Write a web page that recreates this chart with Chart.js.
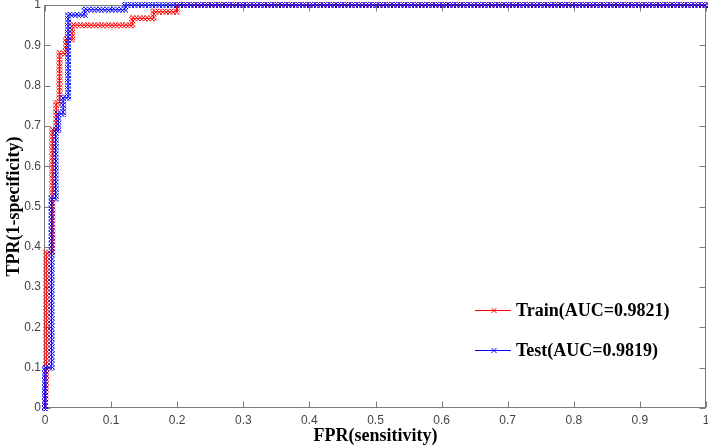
<!DOCTYPE html>
<html>
<head>
<meta charset="utf-8">
<script src="https://cdn.jsdelivr.net/npm/chart.js@4/dist/chart.umd.min.js"></script>
<style>
  body { margin: 0; background: #fff; }
  #wrap { width: 708px; height: 448px; }
</style>
</head>
<body>
<div id="wrap"><canvas id="roc" width="708" height="448"></canvas></div>
<script>
// ROC corner points (FPR, TPR)
const trainFpr = [0, 0.002, 0.002, 0.011, 0.011, 0.017, 0.017, 0.022, 0.022, 0.032, 0.032, 0.041, 0.041, 0.132, 0.132, 0.164, 0.164, 0.199, 0.199, 1];
const trainTpr = [0, 0.1, 0.385, 0.385, 0.69, 0.69, 0.757, 0.757, 0.88, 0.88, 0.915, 0.915, 0.95, 0.95, 0.967, 0.967, 0.983, 0.983, 1, 1];
const testFpr = [0, 0, 0.01, 0.01, 0.016, 0.016, 0.02, 0.02, 0.0275, 0.0275, 0.035, 0.035, 0.06, 0.06, 0.121, 0.121, 1];
const testTpr = [0, 0.1, 0.1, 0.52, 0.52, 0.69, 0.69, 0.73, 0.73, 0.77, 0.77, 0.975, 0.975, 0.988, 0.988, 1, 1];
const seriesNames = ['Train(AUC=0.9821)', 'Test(AUC=0.9819)'];
const seriesColors = ['#ff0000', '#0000ff'];
const xTitle = 'FPR(sensitivity)';
const yTitle = 'TPR(1-specificity)';

function toPoints(xs, ys) {
    return xs.map((x, i) => ({ x: x, y: ys[i] }));
}

// matlab 'x' markers packed tight along the curve -> criss-cross band
function chainPattern(color) {
    const c = document.createElement('canvas');
    c.width = 7; c.height = 7;
    const g = c.getContext('2d');
    g.strokeStyle = color;
    g.lineWidth = 0.9;
    g.beginPath();
    [-7, -3.5, 0, 3.5, 7].forEach(k => { g.moveTo(-1, -1 + k); g.lineTo(8, 8 + k); });
    [0, 3.5, 7, 10.5, 14].forEach(k => { g.moveTo(-1, k + 1); g.lineTo(8, k - 8); });
    g.stroke();
    return g.createPattern(c, 'repeat');
}

function tickText(v) {
    return String(Math.round(v * 10) / 10);
}

const trainPts = toPoints(trainFpr, trainTpr);
const testPts = toPoints(testFpr, testTpr);

const frame = {
    id: 'frame',
    beforeDatasetsDraw(chart) {
        const { ctx, chartArea: a, scales } = chart;
        const L = Math.round(a.left) - 0.5, R = Math.round(a.right) - 0.5;
        const T = Math.round(a.top) + 0.5, B = Math.round(a.bottom) - 0.5;
        ctx.save();
        ctx.strokeStyle = '#7a7a7a';
        ctx.lineWidth = 1;
        ctx.strokeRect(L, T, R - L, B - T);
        ctx.beginPath();
        scales.x.ticks.forEach(t => {
            const px = Math.round(scales.x.getPixelForValue(t.value)) + 0.5;
            ctx.moveTo(px, B); ctx.lineTo(px, B - 6);
            ctx.moveTo(px, T); ctx.lineTo(px, T + 6);
        });
        scales.y.ticks.forEach(t => {
            const py = Math.round(scales.y.getPixelForValue(t.value)) + 0.5;
            ctx.moveTo(L, py); ctx.lineTo(L + 6, py);
            ctx.moveTo(R, py); ctx.lineTo(R - 6, py);
        });
        ctx.stroke();
        ctx.restore();
    },
    afterDatasetsDraw(chart) {
        const { ctx, chartArea: a } = chart;
        const x0 = a.right - 231;
        const rows = [a.bottom - 98, a.bottom - 58];
        ctx.save();
        rows.forEach((y, i) => {
            ctx.strokeStyle = seriesColors[i];
            ctx.lineWidth = 1;
            ctx.beginPath();
            ctx.moveTo(x0, y + 0.5); ctx.lineTo(x0 + 36, y + 0.5);
            const mx = x0 + 19;
            ctx.moveTo(mx - 2.5, y - 2); ctx.lineTo(mx + 2.5, y + 3);
            ctx.moveTo(mx - 2.5, y + 3); ctx.lineTo(mx + 2.5, y - 2);
            ctx.stroke();
            ctx.fillStyle = '#000';
            ctx.font = 'bold 18px "Liberation Serif", "Times New Roman", serif';
            ctx.textBaseline = 'middle';
            ctx.fillText(seriesNames[i], x0 + 41, y + 1);
        });
        ctx.restore();
    }
};

const tickFont = { family: '"Liberation Sans", Arial, sans-serif', size: 12 };
const titleFont = { family: '"Liberation Serif", "Times New Roman", serif', size: 18, weight: 'bold', lineHeight: 1.2 };

new Chart(document.getElementById('roc').getContext('2d'), {
    type: 'scatter',
    data: {
        datasets: [
            { label: seriesNames[1], data: testPts, showLine: true, borderColor: seriesColors[1], borderWidth: 1, pointRadius: 0, clip: false, order: 0 },
            { label: seriesNames[1], data: testPts, showLine: true, borderColor: chainPattern(seriesColors[1]), borderWidth: 6, borderCapStyle: 'square', pointRadius: 0, clip: false, order: 1 },
            { label: seriesNames[0], data: trainPts, showLine: true, borderColor: seriesColors[0], borderWidth: 1, pointRadius: 0, clip: false, order: 2 },
            { label: seriesNames[0], data: trainPts, showLine: true, borderColor: chainPattern(seriesColors[0]), borderWidth: 6, borderCapStyle: 'square', pointRadius: 0, clip: false, order: 3 }
        ]
    },
    options: {
        responsive: false,
        animation: false,
        devicePixelRatio: 1,
        layout: { padding: { top: 5, right: 2, left: 0, bottom: 0 } },
        plugins: { legend: { display: false }, tooltip: { enabled: false } },
        scales: {
            x: {
                type: 'linear', min: 0, max: 1,
                afterFit: s => { s.height = 40; s.paddingLeft = 0; s.paddingRight = 0; },
                ticks: { stepSize: 0.1, padding: 5, color: '#444', font: tickFont, callback: tickText },
                grid: { display: false, drawTicks: false },
                border: { display: false },
                title: { display: true, text: xTitle, color: '#000', padding: { top: 0, bottom: 1 }, font: titleFont }
            },
            y: {
                type: 'linear', min: 0, max: 1,
                afterFit: s => { s.width = 45; s.paddingTop = 0; s.paddingBottom = 0; },
                ticks: { stepSize: 0.1, padding: 4, color: '#444', font: tickFont, callback: tickText },
                grid: { display: false, drawTicks: false },
                border: { display: false },
                title: { display: true, text: yTitle, color: '#000', padding: { top: 4, bottom: 0 }, font: titleFont }
            }
        }
    },
    plugins: [frame]
});
</script>
</body>
</html>
